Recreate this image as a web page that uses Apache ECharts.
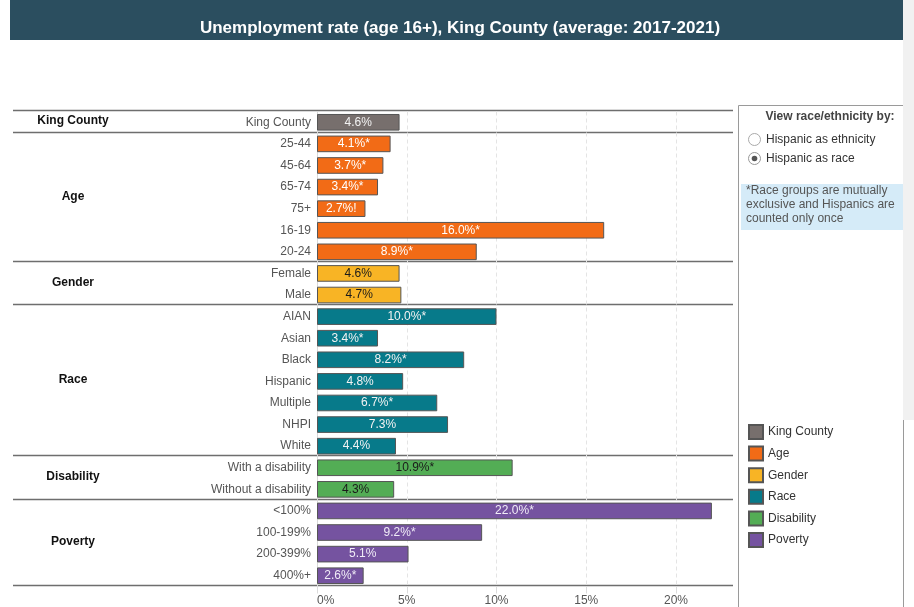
<!DOCTYPE html>
<html>
<head>
<meta charset="utf-8">
<title>Unemployment rate (age 16+), King County</title>
<script src="https://cdn.jsdelivr.net/npm/echarts@6/dist/echarts.min.js"></script>
<style>
  html, body { margin: 0; padding: 0; background: #fff; }
  #chart { width: 914px; height: 607px; }
</style>
</head>
<body>
<div id="chart"></div>
<script>
// Row labels, top to bottom
const categories = [
  'King County',
  '25-44', '45-64', '65-74', '75+', '16-19', '20-24',
  'Female', 'Male',
  'AIAN', 'Asian', 'Black', 'Hispanic', 'Multiple', 'NHPI', 'White',
  'With a disability', 'Without a disability',
  '<100%', '100-199%', '200-399%', '400%+'
];
// Unemployment rate (%) for each row
const rates = [
  4.6,
  4.1, 3.7, 3.4, 2.7, 16.0, 8.9,
  4.6, 4.7,
  10.0, 3.4, 8.2, 4.8, 6.7, 7.3, 4.4,
  10.9, 4.3,
  22.0, 9.2, 5.1, 2.6
];
// Significance / reliability flags appended to the value labels
const flags = [
  '',
  '*', '*', '*', '!', '*', '*',
  '', '',
  '*', '*', '*', '', '*', '', '',
  '*', '',
  '*', '*', '', '*'
];
// Groups and how many consecutive rows each one covers
const groupNames = ['King County', 'Age', 'Gender', 'Race', 'Disability', 'Poverty'];
const groupSizes = [1, 6, 2, 7, 2, 4];

const groupColors = ['#776f6d', '#f26b16', '#f8b425', '#077a8a', '#53ad55', '#7553a0'];
const labelColors = ['#f2f2f2', '#ffffff', '#1a1a1a', '#f2f2f2', '#1a1a1a', '#f0ecf7'];

const FONT = '"Liberation Sans", Arial, sans-serif';
// table frame (rows + separators) and the plotting grid, which sits slightly lower
const FRAME_TOP = 110, FRAME_H = 475;
const GRID_LEFT = 317, GRID_TOP = 111.5, GRID_W = 359, GRID_H = 475;
const rowH = FRAME_H / categories.length;

// one series per group; rows outside the group are empty so every bar sits in its own row
const starts = [];
groupSizes.reduce((acc, n, i) => { starts[i] = acc; return acc + n; }, 0);

const series = groupNames.map((g, gi) => ({
  name: g,
  type: 'bar',
  stack: 'rows',
  barCategoryGap: '23%',
  clip: false,
  itemStyle: { color: groupColors[gi], borderColor: '#555', borderWidth: 1 },
  label: {
    show: true,
    position: 'inside',
    color: labelColors[gi],
    fontFamily: FONT,
    fontSize: 12,
    formatter: p => rates[p.dataIndex].toFixed(1) + '%' + flags[p.dataIndex]
  },
  emphasis: { disabled: true },
  data: rates.map((v, i) => (i >= starts[gi] && i < starts[gi] + groupSizes[gi]) ? v : '-')
}));

const graphics = [];
// title banner
graphics.push({
  type: 'rect', shape: { x: 10, y: 0, width: 893, height: 40 },
  style: { fill: '#2b4e5f' }, silent: true
});
graphics.push({
  type: 'text', x: 460, y: 28,
  style: {
    text: 'Unemployment rate (age 16+), King County (average: 2017-2021)',
    fill: '#ffffff', font: 'bold 17px ' + FONT, align: 'center', verticalAlign: 'middle'
  }
});
// group separators and group names in the left column
const bounds = [0];
groupSizes.forEach((n, i) => bounds.push(bounds[i] + n));
bounds.forEach(b => {
  const y = Math.round(FRAME_TOP + b * rowH) + 0.5;
  graphics.push({
    type: 'line', shape: { x1: 13, y1: y, x2: 733, y2: y },
    style: { stroke: '#6e6e6e', lineWidth: 1.5 }, silent: true
  });
});
groupNames.forEach((g, i) => {
  const yc = FRAME_TOP + (starts[i] + groupSizes[i] / 2) * rowH;
  graphics.push({
    type: 'text', x: 73, y: yc,
    style: { text: g, fill: '#111', font: 'bold 12px ' + FONT, align: 'center', verticalAlign: 'middle' }
  });
});

// side panel
graphics.push({
  type: 'rect', shape: { x: 738.5, y: 105.5, width: 165, height: 520 },
  style: { fill: 'none', stroke: '#9a9a9a', lineWidth: 1 }, silent: true
});
graphics.push({
  type: 'text', x: 830, y: 117,
  style: { text: 'View race/ethnicity by:', fill: '#444', font: 'bold 12px ' + FONT, align: 'center', verticalAlign: 'middle' }
});
graphics.push({
  type: 'circle', shape: { cx: 754.5, cy: 139.5, r: 6 },
  style: { fill: '#fff', stroke: '#aaa', lineWidth: 1 }
});
graphics.push({
  type: 'text', x: 766, y: 139.5,
  style: { text: 'Hispanic as ethnicity', fill: '#333', font: '12px ' + FONT, verticalAlign: 'middle' }
});
graphics.push({
  type: 'circle', shape: { cx: 754.5, cy: 158.5, r: 6 },
  style: { fill: '#fff', stroke: '#999', lineWidth: 1 }
});
graphics.push({
  type: 'circle', shape: { cx: 754.5, cy: 158.5, r: 2.8 },
  style: { fill: '#555' }
});
graphics.push({
  type: 'text', x: 766, y: 158.5,
  style: { text: 'Hispanic as race', fill: '#333', font: '12px ' + FONT, verticalAlign: 'middle' }
});
graphics.push({
  type: 'rect', shape: { x: 741, y: 184, width: 162, height: 46 },
  style: { fill: '#d5ebf8' }, silent: true
});
graphics.push({
  type: 'text', x: 746, y: 184,
  style: {
    text: '*Race groups are mutually\nexclusive and Hispanics are\ncounted only once',
    fill: '#555', font: '12px ' + FONT, lineHeight: 14, verticalAlign: 'top'
  }
});
// scroll strip on the right edge
graphics.push({
  type: 'rect', shape: { x: 903, y: 0, width: 11, height: 420 },
  style: { fill: '#f1f1f1' }, silent: true
});

const chart = echarts.init(document.getElementById('chart'), null, { renderer: 'canvas' });
chart.setOption({
  backgroundColor: '#ffffff',
  animation: false,
  textStyle: { fontFamily: FONT },
  grid: { left: GRID_LEFT, top: GRID_TOP, width: GRID_W, height: GRID_H, containLabel: false },
  legend: {
    orient: 'vertical',
    left: 748,
    top: 424,
    padding: 0,
    itemWidth: 14,
    itemHeight: 14,
    itemGap: 5.6,
    icon: 'rect',
    selectedMode: false,
    textStyle: { color: '#333', fontSize: 12, fontFamily: FONT },
    data: groupNames
  },
  xAxis: {
    type: 'value',
    min: 0,
    max: 20,
    interval: 5,
    axisLine: { show: false },
    axisTick: { show: true, length: 7, lineStyle: { color: '#dcdcdc' } },
    splitLine: { show: true, lineStyle: { color: '#e4e4e4', type: [4, 3] } },
    axisLabel: {
      color: '#555', fontSize: 12, fontFamily: FONT, margin: 8,
      alignMinLabel: 'left',
      formatter: v => v + '%'
    }
  },
  yAxis: {
    type: 'category',
    inverse: true,
    data: categories,
    axisLine: { show: true, lineStyle: { color: '#d9d9d9' } },
    axisTick: { show: false },
    splitLine: { show: false },
    axisLabel: { color: '#555', fontSize: 12, fontFamily: FONT, margin: 6, interval: 0 }
  },
  series: series,
  graphic: graphics
});
</script>
</body>
</html>
